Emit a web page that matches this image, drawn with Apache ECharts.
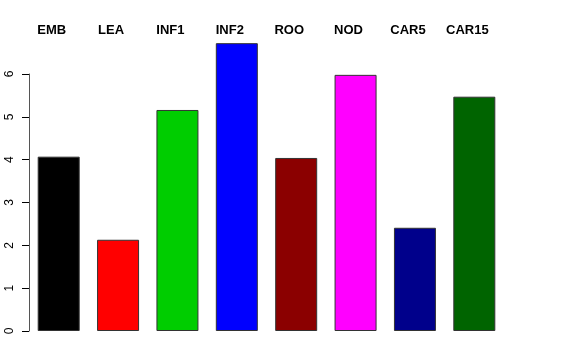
<!DOCTYPE html>
<html><head><meta charset="utf-8">
<script src="https://cdn.jsdelivr.net/npm/echarts@6/dist/echarts.min.js"></script>
<style>html,body{margin:0;padding:0;background:#fff}#c{width:576px;height:360px}</style>
</head><body><div id="c"></div>
<script>
var categories = ["EMB","LEA","INF1","INF2","ROO","NOD","CAR5","CAR15"];
var values = [4.07, 2.13, 5.16, 6.72, 4.04, 5.98, 2.41, 5.47];
var colors = ["#000000","#FF0000","#00CD00","#0000FF","#8B0000","#FF00FF","#00008B","#006400"];
var yTicks = [0,1,2,3,4,5,6];

var chart = echarts.init(document.getElementById('c'), null, {renderer:'canvas'});
chart.setOption({
  animation:false,
  backgroundColor:'#fff',
  grid:{left:29, top:74, width:475, bottom:29, containLabel:false},
  xAxis:[{
    type:'category', data:categories, position:'top',
    axisLine:{show:false}, axisTick:{show:false},
    axisLabel:{fontFamily:'Liberation Sans', fontWeight:'bold', fontSize:13, color:'#000', margin:37, padding:[0,14,0,0], interval:0}
  }],
  yAxis:[{
    type:'value', min:yTicks[0], max:yTicks[yTicks.length-1], interval:1,
    axisLine:{show:true, lineStyle:{color:'#555', width:1}},
    axisTick:{show:true, length:7, lineStyle:{color:'#000'}},
    splitLine:{show:false},
    axisLabel:{rotate:90, fontFamily:'Liberation Sans', fontSize:12, color:'#000', margin:13}
  }],
  series:[{
    type:'bar', clip:false, barWidth:42,
    data: values.map(function(v,i){return {value:v, itemStyle:{color:colors[i], borderColor:'#333', borderWidth:1}};})
  }]
});
</script></body></html>
